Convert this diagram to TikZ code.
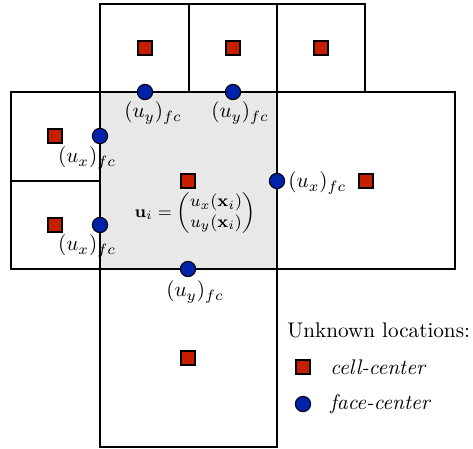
\documentclass[tikz,border=0pt]{standalone}
\usepackage{amsmath}
\definecolor{cellred}{HTML}{C81E00}
\definecolor{faceblue}{HTML}{0022AA}
\definecolor{cellgray}{HTML}{E8E8E8}
\begin{document}
\begin{tikzpicture}[x=0.472pt,y=-0.472pt,
  gridline/.style={draw=black,line width=0.6pt},
  cc/.style={rectangle,draw=black,line width=0.5pt,fill=cellred,minimum size=6.6pt,inner sep=0pt},
  fc/.style={circle,draw=black,line width=0.5pt,fill=faceblue,minimum size=7.2pt,inner sep=0pt},
  lbl/.style={inner sep=0pt}]
\useasboundingbox (0,0) rectangle (473,448);
% shaded central cell
\fill[cellgray] (100,92) rectangle (277,269);
% cells
\draw[gridline] (100,4) rectangle (189,92);
\draw[gridline] (189,4) rectangle (277,92);
\draw[gridline] (277,4) rectangle (365,92);
\draw[gridline] (11,92) rectangle (100,181);
\draw[gridline] (11,181) rectangle (100,269);
\draw[gridline] (100,92) rectangle (277,269);
\draw[gridline] (277,92) rectangle (455,269);
\draw[gridline] (100,269) rectangle (277,447);
% cell centers
\node[cc] (t1) at (145,48) {};
\node[cc] (t2) at (233,48) {};
\node[cc] (t3) at (321,48) {};
\node[cc] (l1) at (55,136) {};
\node[cc] (l2) at (55,225) {};
\node[cc] (c) at (188,181) {};
\node[cc] (r) at (366,181) {};
\node[cc] (b) at (188,358) {};
% face centers
\node[fc] (ft1) at (145,92) {};
\node[fc] (ft2) at (233,92) {};
\node[fc] (fl1) at (100,136) {};
\node[fc] (fl2) at (100,225) {};
\node[fc] (fr) at (277,181) {};
\node[fc] (fb) at (188,269) {};
% labels
\node[lbl] (lt1) at (153,113) {$(u_y)_{fc}$};
\node[lbl] (lt2) at (240,113) {$(u_y)_{fc}$};
\node[lbl] (ll1) at (87,158) {$(u_x)_{fc}$};
\node[lbl] (ll2) at (87,246) {$(u_x)_{fc}$};
\node[lbl,anchor=west] (lr) at (288,183) {$(u_x)_{fc}$};
\node[lbl] (lb) at (195,292) {$(u_y)_{fc}$};
\node[lbl] (eq) at (195,213) {\footnotesize$\mathbf{u}_i=\begin{pmatrix}u_x(\mathbf{x}_i)\\ u_y(\mathbf{x}_i)\end{pmatrix}$};
% legend
\node[lbl,anchor=west] (leg) at (287,330) {Unknown locations:};
\node[cc] (legc) at (303,367) {};
\node[fc] (legf) at (303,404) {};
\node[lbl,anchor=west] (legct) at (330,367) {\textit{cell-center}};
\node[lbl,anchor=west] (legft) at (330,404) {\textit{face-center}};
\end{tikzpicture}
\end{document}
